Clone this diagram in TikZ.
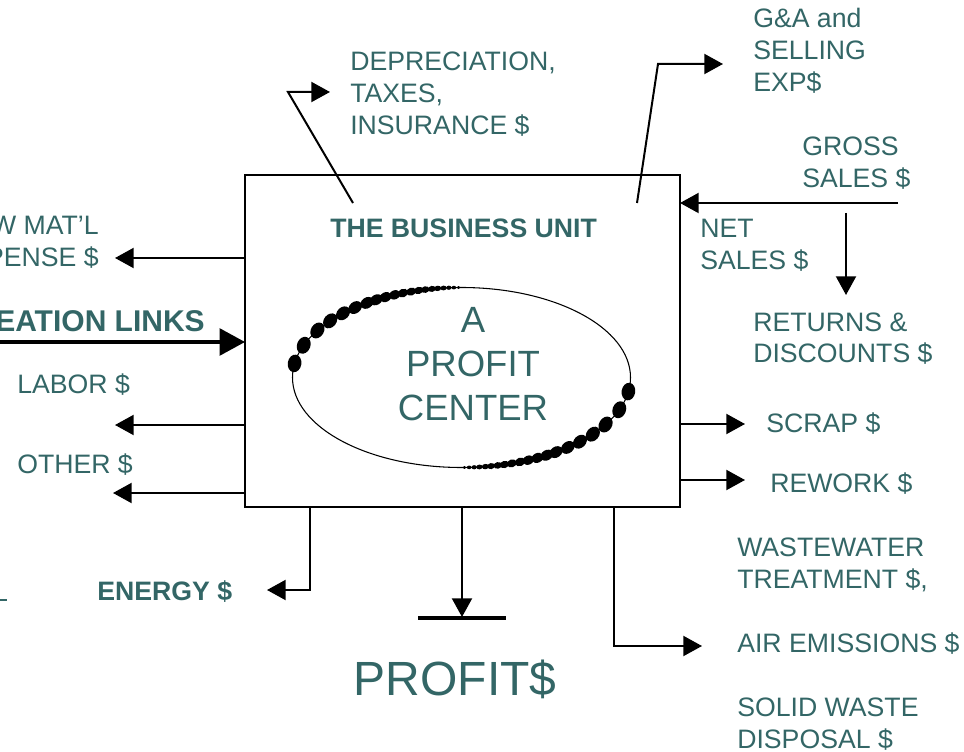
\documentclass[tikz,border=0pt]{standalone}
\usepackage{fontspec}
\setmainfont{Liberation Sans}
\usepackage{tikz}
\usetikzlibrary{arrows.meta}
\definecolor{unitgreen}{RGB}{51,102,102}

\begin{document}
\begin{tikzpicture}[x=0.75pt,y=0.75pt,
        lbl/.style={text=unitgreen,font=\fontsize{20pt}{24pt}\selectfont,align=left,inner sep=0},
        blbl/.style={lbl,font=\fontsize{20pt}{24pt}\selectfont\bfseries},
        arr/.style={line width=1.5pt,-{Triangle[length=14pt,width=15pt]}},
        seg/.style={line width=1.5pt}]
        \useasboundingbox (0,0) rectangle (964,-752);
        \clip (0,0) rectangle (964,-752);

        % the box and its ellipse
        \coordinate (U1) at (245,-175);
        \coordinate (U2) at (680,-507);
        \draw[line width=1.8pt] (U1) rectangle (U2);
        \coordinate (E) at (461.5,-377.5);
        \draw[line width=0.8pt] (E) ellipse[x radius=169,y radius=90];
        \foreach \a/\r in {171/6.8,159/6.7,148.5/6.5,141/6.3,134.5/6,129/5.7,124/5.4,120.3/5.1,
                116.7/4.8,113.3/4.5,110.3/4.2,107.3/3.9,104.7/3.6,102.4/3.3,100.1/3,98.1/2.7,
                96.1/2.4,94.3/2.1,92.6/1.8,91/1.5}{
            \fill (E) ++(\a:169 and 90) circle[x radius=\r,y radius=1.3*\r,rotate=\a];
            \fill (E) ++(\a+180:169 and 90) circle[x radius=\r,y radius=1.3*\r,rotate=\a+180];
        }

        % last line of each label sits on the given baseline
        \node (T) at (330,-238) [blbl,anchor=base west] {THE BUSINESS UNIT};
        \node (C) at (473,-420) [lbl,anchor=base,align=center,
            font=\fontsize{27.4pt}{33pt}\selectfont] {A\\PROFIT\\CENTER};

        % labels
        \node (dep) at (350,-135) [lbl,anchor=base west] {DEPRECIATION,\\TAXES,\\INSURANCE \$};
        \node (ga) at (753,-92) [lbl,anchor=base west] {G\&A and\\SELLING\\EXP\$};
        \node (gross) at (802,-188) [lbl,anchor=base west] {GROSS\\SALES \$};
        \node (net) at (700,-270) [lbl,anchor=base west] {NET\\SALES \$};
        \node (ret) at (753,-363) [lbl,anchor=base west] {RETURNS \&\\DISCOUNTS \$};
        \node (scrap) at (766,-432) [lbl,anchor=base west] {SCRAP \$};
        \node (rework) at (770,-492) [lbl,anchor=base west] {REWORK \$};
        \node (waste) at (737,-748) [lbl,anchor=base west]
            {WASTEWATER\\TREATMENT \$,\\[24pt]AIR EMISSIONS \$\\[24pt]SOLID WASTE\\DISPOSAL \$};
        \node (mat) at (99,-267) [lbl,anchor=base east,align=right] {W MAT’L\\PENSE \$};
        \node (links) at (205,-332) [blbl,anchor=base east,
            font=\fontsize{22.5pt}{27pt}\selectfont\bfseries] {EATION LINKS};
        \node (labor) at (17,-393) [lbl,anchor=base west] {LABOR \$};
        \node (other) at (17,-473) [lbl,anchor=base west] {OTHER \$};
        \node (energy) at (97,-600) [blbl,anchor=base west] {ENERGY \$};
        \node (profit) at (455,-695) [lbl,anchor=base,
            font=\fontsize{36pt}{43pt}\selectfont] {PROFIT\$};

        % connectors
        \coordinate (A) at (245,-258);
        \coordinate (A2) at (115,-258);
        \coordinate (B) at (0,-342);
        \coordinate (B2) at (245,-342);
        \coordinate (D) at (245,-425);
        \coordinate (D2) at (115,-425);
        \coordinate (F) at (245,-493);
        \coordinate (F2) at (113,-493);
        \coordinate (G) at (310,-507);
        \coordinate (G2) at (310,-590);
        \coordinate (G3) at (267,-590);
        \coordinate (P) at (462,-507);
        \coordinate (P2) at (462,-617);
        \coordinate (P3) at (418,-618);
        \coordinate (P4) at (506,-618);
        \coordinate (W) at (614,-507);
        \coordinate (W2) at (614,-646);
        \coordinate (W3) at (702,-646);
        \coordinate (K) at (680,-480);
        \coordinate (K2) at (745,-480);
        \coordinate (S) at (680,-424);
        \coordinate (S2) at (745,-424);
        \coordinate (N) at (898,-203);
        \coordinate (N2) at (680,-203);
        \coordinate (R) at (846,-213);
        \coordinate (R2) at (846,-295);
        \coordinate (H) at (637,-203);
        \coordinate (H2) at (658,-64);
        \coordinate (H3) at (723,-64);
        \coordinate (I) at (353,-203);
        \coordinate (I2) at (288,-92);
        \coordinate (I3) at (330,-92);

        \draw[arr] (A) -- (A2);
        \draw[line width=2.6pt,-{Triangle[length=19pt,width=20pt]}] (B) -- (B2);
        \draw[arr] (D) -- (D2);
        \draw[arr] (F) -- (F2);
        \draw[arr] (G) -- (G2) -- (G3);
        \draw[arr] (P) -- (P2);
        \draw[line width=3pt] (P3) -- (P4);
        \draw[arr] (W) -- (W2) -- (W3);
        \draw[arr] (K) -- (K2);
        \draw[arr] (S) -- (S2);
        \draw[arr] (N) -- (N2);
        \draw[arr] (R) -- (R2);
        \draw[arr] (H) -- (H2) -- (H3);
        \draw[arr] (I) -- (I2) -- (I3);
        \draw[unitgreen,line width=1.5pt] (0,-600) -- (7,-600);
    \end{tikzpicture}
\end{document}
